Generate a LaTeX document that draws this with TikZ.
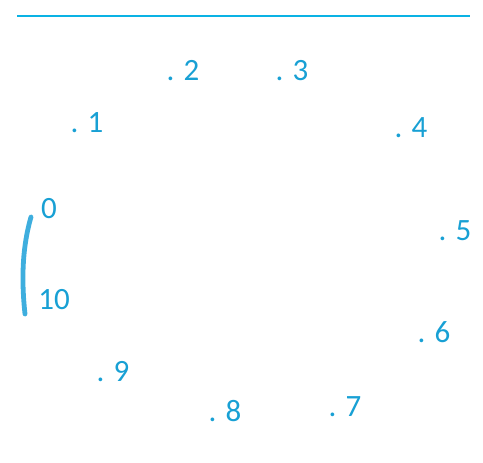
\documentclass[tikz,border=0pt]{standalone}
\usepackage{fontspec}
\setmainfont{Carlito}
\usetikzlibrary{positioning}
\definecolor{dialtext}{RGB}{24,160,212}
\definecolor{dialline}{RGB}{10,178,228}
\definecolor{dialmark}{RGB}{62,174,222}
\begin{document}
\begin{tikzpicture}[
  x=1pt, y=-1pt,
  font=\fontsize{31}{34}\selectfont,
  num/.style={text=dialtext, inner sep=0pt, anchor=center},
  rule/.style={draw=dialline, line width=1.4pt},
  stroke/.style={draw=dialmark, line width=4.8pt, line cap=round}]

\useasboundingbox (0,0) rectangle (483,463);

% top rule
\coordinate (ruleL) at (17,16);
\coordinate (ruleR) at (470,16);
\draw[rule] (ruleL) -- (ruleR);

% dial numbers
\node[num] (n1) at (87,123) {. 1};
\node[num] (n2) at (183,71)  {. 2};
\node[num] (n3) at (292,71)  {. 3};
\node[num] (n4) at (411,128) {. 4};
\node[num] (n5) at (455,231) {. 5};
\node[num] (n6) at (434,332) {. 6};
\node[num] (n7) at (345,407) {. 7};
\node[num] (n8) at (225,411) {. 8};
\node[num] (n9) at (113,372) {. 9};
\node[num] (n0)  at (49,209)  {0};
\node[num] (n10) at (54,300)  {10};

% hand-drawn stroke from 0 to 10
\coordinate (top) at (31,217);
\coordinate (bot) at (25,314);
\draw[stroke] (top) .. controls (25,238) and (20,268) .. (bot);
\end{tikzpicture}
\end{document}
